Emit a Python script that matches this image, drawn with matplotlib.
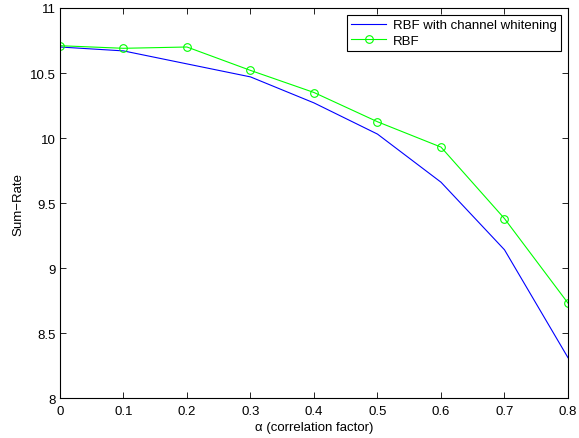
import matplotlib
matplotlib.use("Agg")
import matplotlib.pyplot as plt

plt.rcParams['font.family'] = ['Liberation Sans', 'DejaVu Sans']

alpha = [0.0, 0.1, 0.2, 0.3, 0.4, 0.5, 0.6, 0.7, 0.8]
rbf_whitening = [10.70, 10.67, 10.57, 10.47, 10.27, 10.03, 9.66, 9.14, 8.31]
rbf = [10.71, 10.69, 10.70, 10.52, 10.35, 10.125, 9.93, 9.38, 8.73]
x_ticks = [0, 0.1, 0.2, 0.3, 0.4, 0.5, 0.6, 0.7, 0.8]
x_tick_labels = ['0', '0.1', '0.2', '0.3', '0.4', '0.5', '0.6', '0.7', '0.8']
y_ticks = [8, 8.5, 9, 9.5, 10, 10.5, 11]
y_tick_labels = ['8', '8.5', '9', '9.5', '10', '10.5', '11']

fig = plt.figure(figsize=(5.79, 4.39), dpi=100)
ax = fig.add_axes([0.1036, 0.0911, 0.8774, 0.8884])

ax.plot(alpha, rbf_whitening, color='#0000ff', lw=0.8, label='RBF with channel whitening')
ax.plot(alpha, rbf, color='#00ff00', lw=0.8, marker='o', markersize=5.5,
        markerfacecolor='none', markeredgecolor='#00ff00', markeredgewidth=0.8, label='RBF')

ax.set_xlim(0, 0.8)
ax.set_ylim(8, 11)
ax.set_xticks(x_ticks)
ax.set_xticklabels(x_tick_labels)
ax.set_yticks(y_ticks)
ax.set_yticklabels(y_tick_labels)
ax.tick_params(direction='in', top=True, right=True, labelsize=9.5, length=4, width=0.6)
ax.tick_params(axis='x', pad=5)
ax.tick_params(axis='y', pad=3)
for sp in ax.spines.values():
    sp.set_linewidth(0.8)

ax.set_xlabel('α (correlation factor)', fontsize=9.5, labelpad=3)
ax.set_ylabel('Sum\u2212Rate', fontsize=9.5, labelpad=4)

leg = ax.legend(loc='upper right', fontsize=9.5, fancybox=False, framealpha=1,
                edgecolor='black', borderaxespad=0.55, handlelength=2.65, borderpad=0.3,
                labelspacing=0.25, handletextpad=0.5)
leg.get_frame().set_linewidth(0.8)

fig.savefig('out.png', dpi=100)
